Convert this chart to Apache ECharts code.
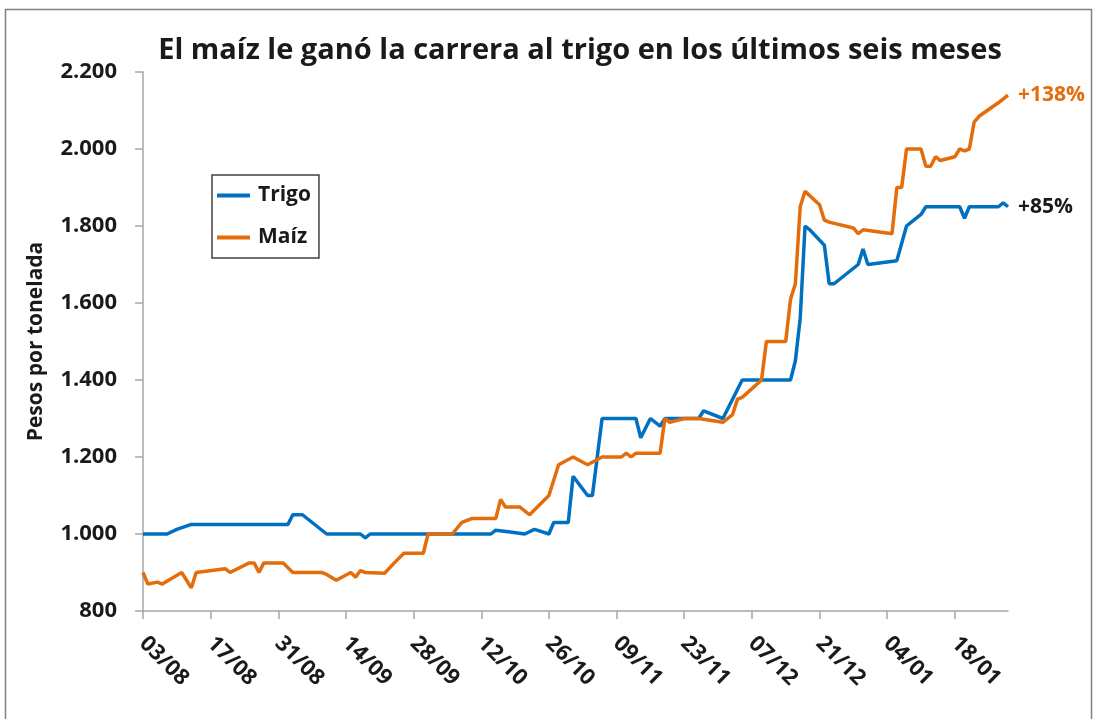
<!DOCTYPE html>
<html>
<head>
<meta charset="utf-8">
<script src="https://cdn.jsdelivr.net/npm/echarts@6/dist/echarts.min.js"></script>
<style>
html,body{margin:0;padding:0;background:#fff;}
#chart{width:1093px;height:719px;}
</style>
</head>
<body>
<div id="chart"></div>
<script>
// Day offsets from START_DATE (03/08/2020)
const START_DATE = [2020, 7, 3];
const tickLabels = ['03/08','17/08','31/08','14/09','28/09','12/10','26/10','09/11','23/11','07/12','21/12','04/01','18/01'];
const yTicks = [800, 1000, 1200, 1400, 1600, 1800, 2000, 2200];

const trigoDays   = [0,5,7,10,30,31,33,38,45,46,47,72,73,76,79,81,82,84,85,88,89,92,93,95,102,103,105,107,108,115,116,120,122,124,134,135,136,137,138,141,142,143,148,149,150,156,158,159,161,162,169,170,171,177,178,179];
const trigoPrices = [1000,1000,1012,1025,1025,1050,1050,1000,1000,990,1000,1000,1010,1005,1000,1012,1008,1000,1030,1030,1150,1100,1100,1300,1300,1250,1300,1280,1300,1300,1320,1300,1350,1400,1400,1450,1560,1800,1790,1750,1650,1650,1700,1740,1700,1710,1800,1810,1830,1850,1850,1820,1850,1850,1860,1850];

const maizDays   = [0,1,3,4,8,10,11,17,18,22,23,24,25,29,31,37,38,40,43,44,45,46,50,52,54,58,59,64,66,68,73,74,75,78,80,84,86,89,92,95,99,100,101,102,107,108,109,112,115,120,122,123,124,128,129,133,134,135,136,137,140,141,142,147,148,149,155,156,157,158,161,162,163,164,165,168,169,170,171,172,173,177,179];
const maizPrices = [900,870,875,870,900,860,900,910,900,925,925,900,925,925,900,900,895,880,900,888,905,900,898,925,950,950,1000,1000,1030,1040,1040,1090,1070,1070,1050,1100,1180,1200,1180,1200,1200,1210,1200,1210,1210,1300,1290,1300,1300,1290,1310,1350,1355,1400,1500,1500,1610,1650,1850,1890,1855,1815,1810,1795,1780,1790,1780,1900,1900,2000,2000,1955,1955,1980,1970,1980,2000,1995,2000,2070,2085,2120,2140];

const trigoEndLabel = '+85%';
const maizEndLabel = '+138%';

const TICK_STEP = 14;
const X_MAX = 179;

function pair(days, vals) { return days.map((d, i) => [d, vals[i]]); }
function fmtThousands(v) { return String(v).replace(/\B(?=(\d{3})+(?!\d))/g, '.'); }

const FONT = '"Open Sans", "Noto Sans", sans-serif';
const TXT = '#1a1a1a';
const tickValues = tickLabels.map((_, i) => i * TICK_STEP);

const chart = echarts.init(document.getElementById('chart'), null, {renderer: 'canvas'});
chart.setOption({
  backgroundColor: '#ffffff',
  animation: false,
  textStyle: { fontFamily: FONT },
  title: {
    text: 'El maíz le ganó la carrera al trigo en los últimos seis meses',
    left: 575, top: 31, textAlign: 'center',
    textStyle: { fontFamily: FONT, fontWeight: 'bold', fontSize: 29, color: TXT }
  },
  graphic: [{
    type: 'rect', left: 3, top: 7, silent: true,
    shape: { width: 1086, height: 730 },
    style: { fill: 'none', stroke: '#808080', lineWidth: 1.5 }
  }],
  legend: {
    orient: 'vertical', left: 212, top: 175,
    padding: [9, 8, 9, 5],
    itemGap: 19, itemWidth: 33, itemHeight: 4, icon: 'rect',
    borderColor: '#404040', borderWidth: 1.5,
    textStyle: { fontFamily: FONT, fontWeight: 'bold', fontSize: 21, color: TXT, lineHeight: 23, padding: [0,0,0,3] },
    data: ['Trigo', 'Maíz']
  },
  grid: { left: 143, right: 85, top: 72, bottom: 108, containLabel: false },
  xAxis: {
    type: 'value', min: 0, max: X_MAX, interval: TICK_STEP,
    axisLine: { show: true, lineStyle: { color: '#a6a6a6', width: 1.5 } },
    axisTick: { show: true, length: 8, lineStyle: { color: '#a6a6a6', width: 1.5 },
      customValues: tickValues },
    axisLabel: {
      rotate: -45, margin: 29,
      customValues: tickValues,
      fontFamily: FONT, fontWeight: 'bold', fontSize: 22, color: TXT,
      formatter: v => (v % TICK_STEP === 0 && tickLabels[v / TICK_STEP]) ? tickLabels[v / TICK_STEP] : ''
    },
    splitLine: { show: false }
  },
  yAxis: {
    type: 'value', min: yTicks[0], max: yTicks[yTicks.length - 1], interval: 200,
    name: 'Pesos por tonelada', nameLocation: 'middle', nameGap: 96, nameRotate: 90,
    nameTextStyle: { fontFamily: FONT, fontWeight: 'bold', fontSize: 21, color: TXT },
    axisLine: { show: true, lineStyle: { color: '#a6a6a6', width: 1.5 } },
    axisTick: { show: true, length: 8, lineStyle: { color: '#a6a6a6', width: 1.5 } },
    axisLabel: { margin: 26, fontFamily: FONT, fontWeight: 'bold', fontSize: 22, color: TXT,
      formatter: v => fmtThousands(v) },
    splitLine: { show: false }
  },
  series: [
    {
      name: 'Trigo', type: 'line', data: pair(trigoDays, trigoPrices),
      showSymbol: false, symbol: 'none',
      lineStyle: { color: '#0070C0', width: 3.5 }, itemStyle: { color: '#0070C0' },
      endLabel: { show: true, formatter: trigoEndLabel, distance: 10,
        fontFamily: FONT, fontWeight: 'bold', fontSize: 21, color: TXT }
    },
    {
      name: 'Maíz', type: 'line', data: pair(maizDays, maizPrices),
      showSymbol: false, symbol: 'none',
      lineStyle: { color: '#E46C0A', width: 3.5 }, itemStyle: { color: '#E46C0A' },
      endLabel: { show: true, formatter: maizEndLabel, distance: 10,
        fontFamily: FONT, fontWeight: 'bold', fontSize: 21, color: '#E46C0A' }
    }
  ]
});
</script>
</body>
</html>
